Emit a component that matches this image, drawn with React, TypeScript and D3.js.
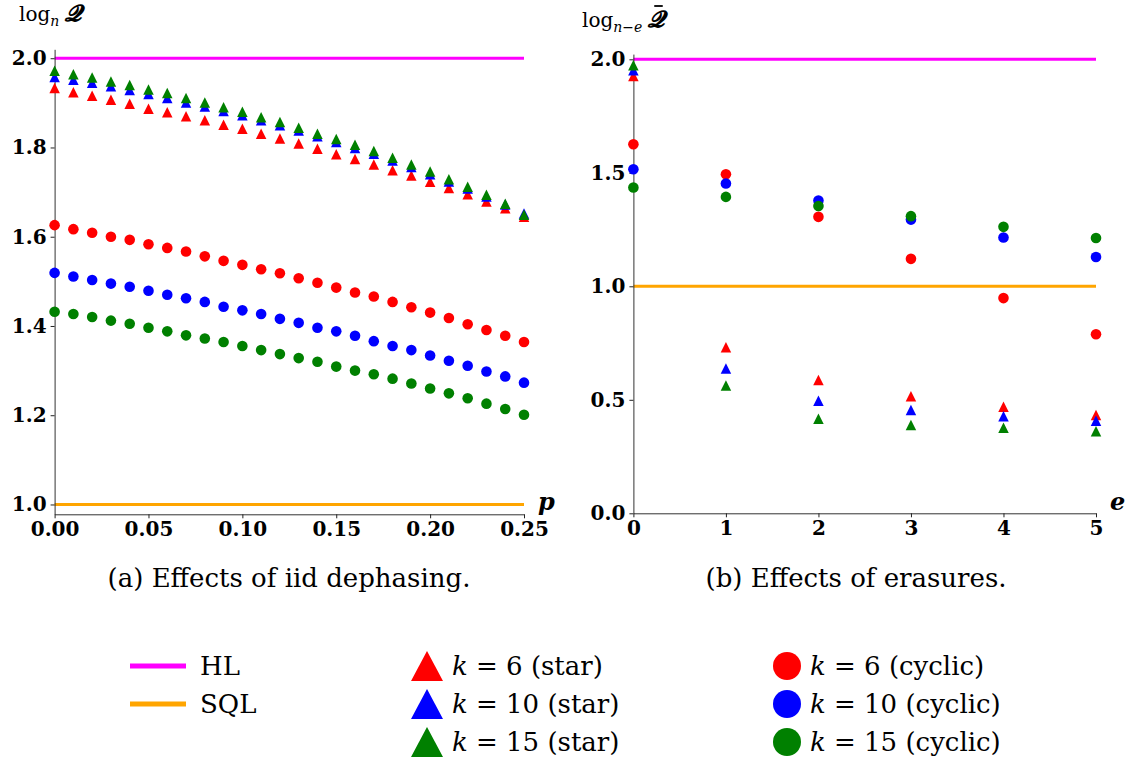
import React, { useEffect, useRef } from 'react';
import * as d3 from 'd3';

// ---------- data ----------
const pValues = [0, 0.01, 0.02, 0.03, 0.04, 0.05, 0.06, 0.07, 0.08, 0.09, 0.1, 0.11, 0.12, 0.13, 0.14, 0.15, 0.16, 0.17, 0.18, 0.19, 0.2, 0.21, 0.22, 0.23, 0.24, 0.25];

const starK6P = [1.933, 1.924, 1.916, 1.907, 1.898, 1.887, 1.879, 1.870, 1.861, 1.851, 1.842, 1.831, 1.820, 1.809, 1.797, 1.785, 1.774, 1.762, 1.749, 1.737, 1.723, 1.709, 1.695, 1.679, 1.664, 1.645];
const starK10P = [1.958, 1.952, 1.945, 1.937, 1.929, 1.920, 1.911, 1.901, 1.892, 1.882, 1.872, 1.861, 1.850, 1.838, 1.825, 1.812, 1.799, 1.786, 1.771, 1.756, 1.740, 1.724, 1.708, 1.690, 1.672, 1.652];
const starK15P = [1.972, 1.964, 1.957, 1.948, 1.940, 1.930, 1.922, 1.911, 1.901, 1.890, 1.880, 1.868, 1.857, 1.844, 1.831, 1.819, 1.806, 1.792, 1.777, 1.762, 1.746, 1.729, 1.712, 1.694, 1.674, 1.649];
const cyclicK6P = [1.626, 1.617, 1.609, 1.600, 1.593, 1.583, 1.575, 1.567, 1.556, 1.546, 1.537, 1.527, 1.518, 1.507, 1.497, 1.486, 1.475, 1.466, 1.454, 1.442, 1.430, 1.418, 1.404, 1.391, 1.378, 1.364];
const cyclicK10P = [1.519, 1.511, 1.503, 1.495, 1.488, 1.479, 1.470, 1.462, 1.454, 1.443, 1.435, 1.427, 1.416, 1.407, 1.396, 1.388, 1.378, 1.366, 1.355, 1.346, 1.334, 1.322, 1.311, 1.298, 1.287, 1.273];
const cyclicK15P = [1.432, 1.427, 1.420, 1.412, 1.405, 1.396, 1.388, 1.379, 1.372, 1.364, 1.355, 1.346, 1.337, 1.328, 1.320, 1.309, 1.300, 1.292, 1.282, 1.271, 1.260, 1.249, 1.238, 1.226, 1.214, 1.201];

const eValues = [0, 1, 2, 3, 4, 5];
const starK6E = [1.926, 0.731, 0.587, 0.516, 0.469, 0.433];
const starK10E = [1.952, 0.638, 0.496, 0.455, 0.428, 0.408];
const starK15E = [1.974, 0.563, 0.416, 0.389, 0.377, 0.362];
const cyclicK6E = [1.626, 1.494, 1.306, 1.121, 0.948, 0.789];
const cyclicK10E = [1.516, 1.453, 1.378, 1.294, 1.215, 1.129];
const cyclicK15E = [1.435, 1.394, 1.354, 1.309, 1.262, 1.213];

const hlLevel = 2;
const sqlLevel = 1;

const leftXTicks = [0, 0.05, 0.1, 0.15, 0.2, 0.25];
const leftYTicks = [1.0, 1.2, 1.4, 1.6, 1.8, 2.0];
const rightXTicks = [0, 1, 2, 3, 4, 5];
const rightYTicks = [0, 0.5, 1.0, 1.5, 2.0];

const seriesColors = ['#ff0000', '#0000ff', '#008000'];
const kLabels = ['6', '10', '15'];
const refColors = { hl: '#ff00ff', sql: '#ffa500' };

const TEXT_FONT = "'DejaVu Serif', serif";

type Sel = d3.Selection<any, unknown, null, undefined>;

function triPath(size: number, w?: number) {
  const h = size / 2;
  const hw = (w ?? size) / 2;
  return `M0,${-h}L${hw},${h}L${-hw},${h}Z`;
}

function drawPanel(svg: Sel, cfg: {
  x: d3.ScaleLinear<number, number>;
  y: d3.ScaleLinear<number, number>;
  xs: number[];
  stars: number[][];
  cyclics: number[][];
  xTicks: number[];
  yTicks: number[];
  xFmt: (v: number) => string;
  yFmt: (v: number) => string;
  xLabel: string;
  xLabelPos: [number, number];
}) {
  const { x, y, xs } = cfg;
  const g = svg.append('g');
  const [x0, x1] = x.domain();

  // reference lines
  [[hlLevel, refColors.hl], [sqlLevel, refColors.sql]].forEach(([lvl, c]) => {
    g.append('line')
      .attr('x1', x(x0)).attr('x2', x(x1))
      .attr('y1', y(lvl as number)).attr('y2', y(lvl as number))
      .attr('stroke', c as string).attr('stroke-width', 3);
  });

  // axes
  const [yMin] = y.domain();
  const xAxis = d3.axisBottom(x).tickValues(cfg.xTicks).tickFormat(cfg.xFmt as any).tickSize(4).tickSizeOuter(0).tickPadding(4);
  const yAxis = d3.axisLeft(y).tickValues(cfg.yTicks).tickFormat(cfg.yFmt as any).tickSize(4).tickSizeOuter(0).tickPadding(4);
  const gx = g.append('g').attr('transform', `translate(0,${y(yMin)})`).call(xAxis);
  const gy = g.append('g').attr('transform', `translate(${x(x0)},0)`).call(yAxis);
  [gx, gy].forEach((a) => {
    a.attr('color', '#222');
    a.selectAll('text')
      .attr('fill', '#000')
      .style('font-family', TEXT_FONT)
      .style('font-weight', 'bold')
      .style('font-size', '20px');
    a.select('.domain').attr('stroke', '#333');
  });

  // star markers (triangles)
  cfg.stars.forEach((vals, i) => {
    g.append('g').selectAll('path').data(vals).join('path')
      .attr('d', triPath(10.5))
      .attr('transform', (d, j) => `translate(${x(xs[j])},${y(d)})`)
      .attr('fill', seriesColors[i]);
  });
  // cyclic markers (circles)
  cfg.cyclics.forEach((vals, i) => {
    g.append('g').selectAll('circle').data(vals).join('circle')
      .attr('cx', (d, j) => x(xs[j]))
      .attr('cy', (d) => y(d))
      .attr('r', 5.3)
      .attr('fill', seriesColors[i]);
  });

  // x label
  g.append('text')
    .attr('x', cfg.xLabelPos[0]).attr('y', cfg.xLabelPos[1])
    .style('font-family', TEXT_FONT)
    .style('font-style', 'italic')
    .style('font-weight', 'bold')
    .style('font-size', '24px')
    .text(cfg.xLabel);
}

function yTitle(svg: Sel, x: number, y: number, sub: string, bar: boolean) {
  const t = svg.append('text').attr('x', x).attr('y', y).style('font-family', TEXT_FONT).style('font-size', '20px');
  t.append('tspan').text('log');
  t.append('tspan').attr('dy', 5).style('font-size', '14px').style('font-style', 'italic').text(sub);
  const q = t.append('tspan').attr('dy', -5).attr('dx', 6).style('font-size', '23px').style('font-weight', 'bold').style('font-style', 'italic').text('𝓠');
  if (bar) {
    const node = t.node() as SVGTextElement;
    try {
      const n = node.getNumberOfChars();
      const ext = node.getExtentOfChar(n - 1);
      svg.append('line')
        .attr('x1', ext.x + ext.width * 0.35).attr('x2', ext.x + ext.width * 0.85)
        .attr('y1', ext.y + 1).attr('y2', ext.y + 1)
        .attr('stroke', '#000').attr('stroke-width', 1.8);
    } catch (e) {
      q.text('𝓠̄');
    }
  }
}

export default function App() {
  const ref = useRef<SVGSVGElement>(null);

  useEffect(() => {
    const svg = d3.select(ref.current) as unknown as Sel;
    svg.selectAll('*').remove();

    const xL = d3.scaleLinear().domain([0, 0.25]).range([54.6, 524]);
    const yL = d3.scaleLinear().domain([0.978, 2.02]).range([514.3, 49.3]);
    const xR = d3.scaleLinear().domain([0, 5]).range([633.4, 1096]);
    const yR = d3.scaleLinear().domain([0, 2.023]).range([513.3, 54.1]);

    drawPanel(svg, {
      x: xL, y: yL, xs: pValues,
      stars: [starK6P, starK10P, starK15P],
      cyclics: [cyclicK6P, cyclicK10P, cyclicK15P],
      xTicks: leftXTicks, yTicks: leftYTicks,
      xFmt: d3.format('.2f'), yFmt: d3.format('.1f'),
      xLabel: 'p', xLabelPos: [538, 510],
    });
    drawPanel(svg, {
      x: xR, y: yR, xs: eValues,
      stars: [starK6E, starK10E, starK15E],
      cyclics: [cyclicK6E, cyclicK10E, cyclicK15E],
      xTicks: rightXTicks, yTicks: rightYTicks,
      xFmt: d3.format('d'), yFmt: d3.format('.1f'),
      xLabel: 'e', xLabelPos: [1110, 510],
    });

    // y-axis titles
    yTitle(svg, 19, 21, 'n', false);
    yTitle(svg, 582, 27, 'n−e', true);

    // captions
    [['(a) Effects of iid dephasing.', 289], ['(b) Effects of erasures.', 856]].forEach(([t, cx]) => {
      svg.append('text').attr('x', cx as number).attr('y', 587).attr('text-anchor', 'middle')
        .style('font-family', TEXT_FONT).style('font-size', '26px').text(t as string);
    });

    // legend
    const rows = [666, 704, 742];
    const lg = svg.append('g');
    [['HL', refColors.hl], ['SQL', refColors.sql]].forEach(([name, c], i) => {
      lg.append('line').attr('x1', 130).attr('x2', 186).attr('y1', rows[i]).attr('y2', rows[i])
        .attr('stroke', c).attr('stroke-width', 5);
      lg.append('text').attr('x', 200).attr('y', rows[i] + 9)
        .style('font-family', TEXT_FONT).style('font-size', '26px').text(name);
    });
    kLabels.forEach((k, i) => {
      lg.append('path').attr('d', triPath(30, 32)).attr('transform', `translate(427,${rows[i]})`).attr('fill', seriesColors[i]);
      const ts = lg.append('text').attr('x', 452).attr('y', rows[i] + 9).style('font-family', TEXT_FONT).style('font-size', '26px');
      ts.append('tspan').style('font-style', 'italic').text('k');
      ts.append('tspan').text(` = ${k} (star)`);
      lg.append('circle').attr('cx', 787).attr('cy', rows[i]).attr('r', 14).attr('fill', seriesColors[i]);
      const tc = lg.append('text').attr('x', 810).attr('y', rows[i] + 9).style('font-family', TEXT_FONT).style('font-size', '26px');
      tc.append('tspan').style('font-style', 'italic').text('k');
      tc.append('tspan').text(` = ${k} (cyclic)`);
    });
  }, []);

  return (
    <svg ref={ref} width={1128} height={762}
      style={{ position: 'absolute', left: 0, top: 0, background: '#fff', display: 'block' }} />
  );
}
